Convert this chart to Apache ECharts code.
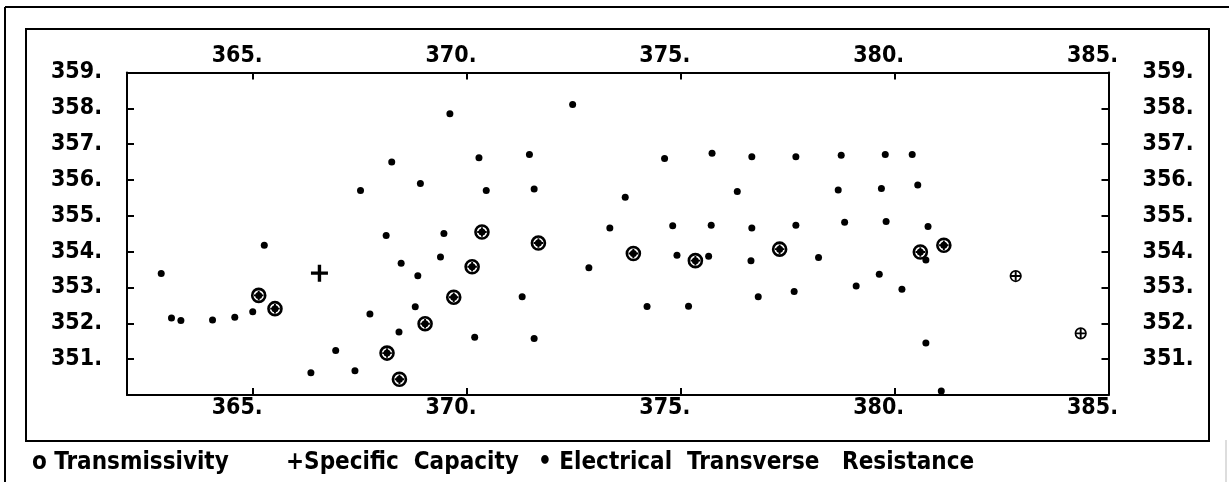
<!DOCTYPE html>
<html>
<head>
<meta charset="utf-8">
<script src="https://cdn.jsdelivr.net/npm/echarts@6/dist/echarts.min.js"></script>
<style>
html,body{margin:0;padding:0;background:#fff;}
#chart{width:1229px;height:482px;}
</style>
</head>
<body>
<div id="chart"></div>
<script>
// ---- data (easting, northing) ----
const xTickValues = [365, 370, 375, 380];
const xLabelValues = [365, 370, 375, 380, 385];
const yTickValues = [351, 352, 353, 354, 355, 356, 357, 358];
const yLabelValues = [351, 352, 353, 354, 355, 356, 357, 358, 359];

const seriesNames = ['Transmissivity', 'Specific Capacity', 'Electrical Transverse Resistance'];
const legendLabels = ['o Transmissivity', '+Specific  Capacity', '• Electrical  Transverse   Resistance'];

const transmissivity = [
  [365.13, 352.78], [365.51, 352.41], [370.35, 354.55], [371.67, 354.24],
  [370.12, 353.58], [369.69, 352.73], [369.02, 351.99], [368.13, 351.17],
  [368.42, 350.44], [373.89, 353.95], [375.34, 353.75], [377.31, 354.07],
  [380.60, 353.99], [381.15, 354.18], [382.83, 353.32], [384.35, 351.72]
];

const specificCapacity = [
  [365.13, 352.78], [365.51, 352.41], [370.35, 354.55], [371.67, 354.24],
  [370.12, 353.58], [369.69, 352.73], [369.02, 351.99], [368.13, 351.17],
  [368.42, 350.44], [373.89, 353.95], [375.34, 353.75], [377.31, 354.07],
  [380.60, 353.99], [381.15, 354.18], [382.83, 353.32], [384.35, 351.72],
  [366.55, 353.40]
];

const resistance = [
  [362.85, 353.39], [363.09, 352.15], [363.31, 352.08], [364.05, 352.09],
  [364.57, 352.17], [364.99, 352.32], [365.26, 354.18], [367.51, 355.71],
  [367.73, 352.26], [366.93, 351.24], [366.35, 350.62], [367.38, 350.68],
  [369.60, 357.85], [372.47, 358.11], [368.24, 356.50], [370.28, 356.62],
  [371.46, 356.71], [368.91, 355.90], [370.45, 355.71], [371.57, 355.75],
  [373.70, 355.52], [368.11, 354.45], [369.46, 354.51], [373.34, 354.66],
  [368.46, 353.68], [369.38, 353.85], [368.85, 353.33], [372.85, 353.55],
  [371.29, 352.74], [368.79, 352.46], [368.41, 351.76], [370.18, 351.61],
  [371.57, 351.58], [374.62, 356.60], [375.73, 356.75], [376.66, 356.65],
  [377.69, 356.65], [378.75, 356.69], [376.32, 355.68], [378.68, 355.72],
  [374.81, 354.72], [375.71, 354.74], [376.66, 354.66], [377.69, 354.74],
  [378.83, 354.82], [374.91, 353.90], [375.65, 353.87], [376.64, 353.75],
  [378.22, 353.84], [377.65, 352.89], [379.10, 353.04], [374.21, 352.47],
  [375.18, 352.48], [376.81, 352.74], [379.78, 356.71], [380.41, 356.71],
  [379.69, 355.76], [380.54, 355.86], [379.80, 354.84], [380.78, 354.70],
  [380.73, 353.77], [379.64, 353.37], [380.17, 352.95], [380.73, 351.45],
  [381.09, 350.11],
  [365.13, 352.78], [365.51, 352.41], [370.35, 354.55], [371.67, 354.24],
  [370.12, 353.58], [369.69, 352.73], [369.02, 351.99], [368.13, 351.17],
  [368.42, 350.44], [373.89, 353.95], [375.34, 353.75], [377.31, 354.07],
  [380.60, 353.99], [381.15, 354.18]
];

// ---- helpers ----
const key = p => p[0] + ',' + p[1];
const resistanceSet = new Set(resistance.map(key));
const transSet = new Set(transmissivity.map(key));

const FONT = '"DejaVu Sans Condensed", "DejaVu Sans", sans-serif';
const labelStyle = { color: '#000', fontFamily: FONT, fontSize: 23, fontWeight: 'bold' };
const PLUS = 'path://M4,0 L6,0 L6,4 L10,4 L10,6 L6,6 L6,10 L4,10 L4,6 L0,6 L0,4 L4,4 Z';

function xAxis(pos, margin) {
  return {
    type: 'value', position: pos, min: 362.05, max: 385,
    axisLine: { show: true, onZero: false, lineStyle: { color: '#000', width: 2 } },
    axisTick: { show: true, inside: true, length: 7, customValues: xTickValues, lineStyle: { color: '#000', width: 2 } },
    axisLabel: { show: true, customValues: xLabelValues, formatter: v => v + '.', margin: margin,
                 padding: [0, 32, 0, 0], hideOverlap: false, showMinLabel: true, showMaxLabel: true, ...labelStyle },
    splitLine: { show: false }
  };
}
function yAxis(pos, margin, align) {
  return {
    type: 'value', position: pos, min: 350, max: 359,
    axisLine: { show: true, onZero: false, lineStyle: { color: '#000', width: 2 } },
    axisTick: { show: true, inside: true, length: 7, customValues: yTickValues, lineStyle: { color: '#000', width: 2 } },
    axisLabel: { show: true, customValues: yLabelValues, formatter: v => v + '.', margin: margin, align: align,
                 padding: [0, 0, 6, 0], hideOverlap: false, showMinLabel: true, showMaxLabel: true, ...labelStyle },
    splitLine: { show: false }
  };
}

const chart = echarts.init(document.getElementById('chart'), null, { renderer: 'canvas' });
const legendLeft = [27, 281, 533];
chart.setOption({
  animation: false,
  backgroundColor: '#fff',
  grid: { left: 127, top: 72.5, width: 981.5, height: 322.5, containLabel: false },
  xAxis: [xAxis('bottom', 2), xAxis('top', 5)],
  yAxis: [yAxis('left', 25, 'right'), yAxis('right', 34, 'left')],
  legend: seriesNames.map((n, i) => ({
    data: [n], left: legendLeft[i], top: 451, icon: 'none', itemWidth: 0, itemGap: 0, padding: 0,
    selectedMode: false,
    formatter: () => legendLabels[i],
    textStyle: { color: '#000', fontFamily: FONT, fontSize: 24, fontWeight: 'bold', padding: 0 }
  })),
  graphic: [
    { type: 'rect', shape: { x: 26, y: 29, width: 1183, height: 412 }, style: { fill: 'none', stroke: '#000', lineWidth: 2 }, silent: true },
    { type: 'line', shape: { x1: 5, y1: 7, x2: 1229, y2: 7 }, style: { stroke: '#000', lineWidth: 2 }, silent: true },
    { type: 'line', shape: { x1: 5, y1: 7, x2: 5, y2: 482 }, style: { stroke: '#000', lineWidth: 2 }, silent: true },
    { type: 'line', shape: { x1: 1226, y1: 440, x2: 1226, y2: 482 }, style: { stroke: '#bbb', lineWidth: 1 }, silent: true }
  ],
  series: [
    {
      name: seriesNames[0], type: 'scatter', xAxisIndex: 0, yAxisIndex: 0, clip: false,
      symbol: 'circle',
      data: transmissivity.map(p => ({
        value: p,
        symbolSize: resistanceSet.has(key(p)) ? 13 : 10.5,
        itemStyle: { color: 'rgba(0,0,0,0)', borderColor: '#000', opacity: 1, borderWidth: resistanceSet.has(key(p)) ? 2.6 : 1.7 }
      })),
      z: 2
    },
    {
      name: seriesNames[1], type: 'scatter', xAxisIndex: 0, yAxisIndex: 0, clip: false,
      symbol: PLUS,
      symbolSize: v => transSet.has(key(v)) ? 9.5 : 17,
      itemStyle: { color: '#000', opacity: 1 },
      data: specificCapacity,
      z: 3
    },
    {
      name: seriesNames[2], type: 'scatter', xAxisIndex: 0, yAxisIndex: 0, clip: false,
      symbol: 'circle', symbolSize: 7,
      itemStyle: { color: '#000', opacity: 1 },
      data: resistance,
      z: 4
    }
  ]
});
</script>
</body>
</html>
